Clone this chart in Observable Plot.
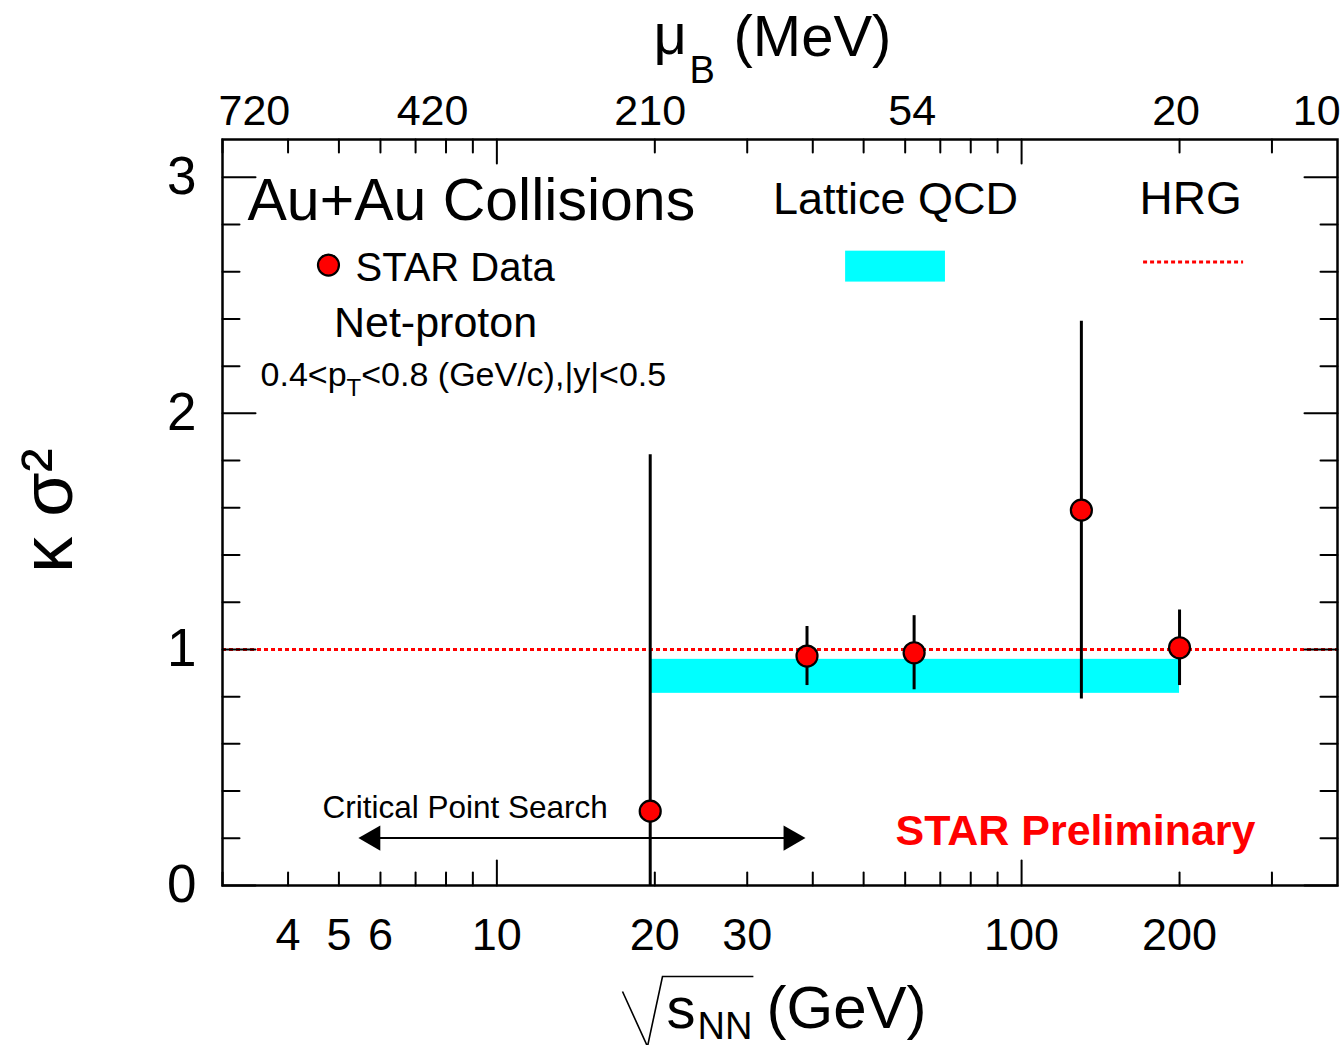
<!DOCTYPE html>
<html>
<head>
<meta charset="utf-8">
<script src="https://cdn.jsdelivr.net/npm/d3@7"></script>
<script src="https://cdn.jsdelivr.net/npm/@observablehq/plot@0.6"></script>
<style>
html, body { margin: 0; padding: 0; background: #ffffff; }
#chart svg { display: block; }
</style>
</head>
<body>
<div id="chart"></div>
<script>
// ---- data ----
const energies = [19.6, 39, 62.4, 130, 200];          // sqrt(s_NN) in GeV
const kappaSigma2 = [0.315, 0.972, 0.986, 1.59, 1.007];
const statErrors = [1.51, 0.125, 0.157, 0.80, 0.16];
const lqcdEnergyRange = [19.6, 200];
const lqcdRange = [0.814, 0.958];
const hrgValue = [1];
const xTickLabels = [4, 5, 6, 10, 20, 30, 100, 200];
const xMinorTicks = [3, 4, 5, 6, 7, 8, 9, 20, 30, 40, 50, 60, 70, 80, 90, 200, 300];
const xMajorTicks = [10, 100];
const yTickLabels = [0, 1, 2, 3];
const yMinorTicks = [0.2, 0.4, 0.6, 0.8, 1.2, 1.4, 1.6, 1.8, 2.2, 2.4, 2.6, 2.8];
const muBLabels = ["720", "420", "210", "54", "20", "10"];
const muBEnergies = [3.45, 7.54, 19.6, 61.9, 197, 365];
const arrowRange = [5.447, 38.74];
const arrowLevel = [0.201];

const points = energies.map((e, i) => ({
  energy: e, value: kappaSigma2[i],
  lo: kappaSigma2[i] - statErrors[i], hi: kappaSigma2[i] + statErrors[i]
}));
const band = [{x1: lqcdEnergyRange[0], x2: lqcdEnergyRange[1], y1: lqcdRange[0], y2: lqcdRange[1]}];
const muBTable = muBLabels.map((t, i) => ({t, e: muBEnergies[i]}));

const FONT = "'Liberation Sans', Arial, Helvetica, sans-serif";
const ML = 222, MT = 139;

const tickShape = {draw(context, l) { context.moveTo(0, 0); context.lineTo(0, -l); }};
const ticks = (values, ch, side, len) => Plot.vector(values, {
  [ch]: d => d, frameAnchor: side,
  rotate: {bottom: 0, top: 180, left: 90, right: -90}[side],
  length: len, anchor: "start", shape: tickShape, stroke: "black", strokeWidth: 2
});
// text placed in pixel offsets from the top-left corner of the frame
const label = (txt, px, py, opts = {}) => Plot.text([txt], {
  text: d => d, frameAnchor: "top-left", dx: px - ML, dy: py - MT,
  textAnchor: "start", lineAnchor: "bottom", fill: "black", ...opts
});

const chart = Plot.plot({
  width: 1343,
  height: 1045,
  marginLeft: ML,
  marginRight: 6,
  marginTop: MT,
  marginBottom: 160,
  style: {fontFamily: FONT, background: "white", overflow: "visible"},
  x: {type: "log", domain: [3, 400], axis: null},
  y: {domain: [0, 3.16], axis: null},
  marks: [
    // Lattice QCD band
    Plot.rect(band, {x1: "x1", x2: "x2", y1: "y1", y2: "y2", fill: "#00ffff"}),
    // HRG line
    Plot.ruleY(hrgValue, {stroke: "#ff0000", strokeWidth: 3, strokeDasharray: "4,3"}),
    // error bars
    Plot.ruleX(points, {x: "energy", y1: "lo", y2: "hi", stroke: "black", strokeWidth: 3, clip: true}),
    // data points
    Plot.dot(points, {x: "energy", y: "value", r: 10.5, fill: "#ff0000", stroke: "black", strokeWidth: 2.2}),

    // ticks (inward, ROOT style)
    ticks(xMinorTicks, "x", "bottom", 13),
    ticks(xMajorTicks, "x", "bottom", 25),
    ticks(xMinorTicks, "x", "top", 13),
    ticks(xMajorTicks, "x", "top", 24),
    ticks(yMinorTicks, "y", "left", 17),
    ticks(yTickLabels, "y", "left", 33),
    ticks(yMinorTicks, "y", "right", 17),
    ticks(yTickLabels, "y", "right", 33),
    Plot.frame({stroke: "black", strokeWidth: 2.5}),

    // tick labels
    Plot.text(xTickLabels, {x: d => d, text: d => String(d), frameAnchor: "bottom", dy: 50,
      fontSize: 45, lineAnchor: "middle", fill: "black"}),
    Plot.text(yTickLabels, {y: d => d, text: d => String(d), frameAnchor: "left", dx: -26,
      textAnchor: "end", fontSize: 53, lineAnchor: "middle", fill: "black"}),
    Plot.text(muBTable, {x: "e", text: "t", frameAnchor: "top", dy: -28,
      fontSize: 43, lineAnchor: "middle", fill: "black"}),

    // axis titles
    label("\u03bc", 653, 53, {fontSize: 58}),
    label("B", 689, 82, {fontSize: 38}),
    label("(MeV)", 733, 55, {fontSize: 58}),
    label("s", 666, 1027, {fontSize: 58, className: "xt-s"}),
    label("NN", 697, 1038, {fontSize: 38, className: "xt-nn"}),
    label("(GeV)", 766, 1027, {fontSize: 60}),
    Plot.text(["\u03ba \u03c3\u00b2"], {text: d => d, frameAnchor: "left", dx: 71 - ML, dy: -2,
      rotate: -90, textAnchor: "middle", fontSize: 72, lineAnchor: "bottom", fill: "black"}),

    // legend / annotations (data coordinates)
    Plot.text(["Au+Au Collisions"], {x: 3.348, y: 2.819, text: d => d, textAnchor: "start",
      lineAnchor: "bottom", fontSize: 59, fill: "black"}),
    Plot.text(["Lattice QCD"], {x: 57.5, y: 2.844, text: d => d, lineAnchor: "bottom",
      fontSize: 45, fill: "black"}),
    Plot.text(["HRG"], {x: 209.9, y: 2.844, text: d => d, lineAnchor: "bottom",
      fontSize: 46, fill: "black"}),
    Plot.rect([{x1: 46.2, x2: 71.6, y1: 2.556, y2: 2.687}], {x1: "x1", x2: "x2", y1: "y1", y2: "y2", fill: "#00ffff"}),
    Plot.ruleY([{y: 2.641, x1: 170.8, x2: 264.9}], {y: "y", x1: "x1", x2: "x2",
      stroke: "#ff0000", strokeWidth: 3, strokeDasharray: "4,3"}),
    Plot.dot([{x: 4.776, y: 2.628}], {x: "x", y: "y", r: 10.5, fill: "#ff0000", stroke: "black", strokeWidth: 2.2}),
    Plot.text(["STAR Data"], {x: 5.378, y: 2.561, text: d => d, textAnchor: "start",
      lineAnchor: "bottom", fontSize: 40, fill: "black"}),
    Plot.text(["Net-proton"], {x: 7.64, y: 2.322, text: d => d, lineAnchor: "bottom",
      fontSize: 43, fill: "black"}),
    Plot.text(["0.4<pT<0.8 (GeV/c),|y|<0.5"], {x: 3.545, y: 2.116, text: d => d, textAnchor: "start",
      lineAnchor: "bottom", fontSize: 34, fill: "black", className: "pt-label"}),
    Plot.text(["Critical Point Search"], {x: 4.652, y: 0.285, text: d => d, textAnchor: "start",
      lineAnchor: "bottom", fontSize: 31.5, fill: "black"}),
    Plot.ruleY(arrowLevel, {x1: arrowRange[0], x2: arrowRange[1], stroke: "black", strokeWidth: 2,
      insetLeft: 10, insetRight: 10}),
    Plot.dot(arrowLevel, {x: arrowRange[0], y: d => d, symbol: "triangle", rotate: -90, r: 9.4,
      dx: 14.6, fill: "black", stroke: "none"}),
    Plot.dot(arrowLevel, {x: arrowRange[1], y: d => d, symbol: "triangle", rotate: 90, r: 9.4,
      dx: -14.6, fill: "black", stroke: "none"}),
    Plot.text(["STAR Preliminary"], {x: 57.5, y: 0.171, text: d => d, textAnchor: "start",
      lineAnchor: "bottom", fontSize: 43, fontWeight: "bold", fill: "#ff0000"})
  ]
});
document.getElementById("chart").appendChild(chart);

// ---- text refinements: subscripts and radical sign ----
const svg = d3.select(chart);
const pt = svg.select(".pt-label text");
if (!pt.empty()) {
  pt.text(null);
  pt.append("tspan").text("0.4<p");
  pt.append("tspan").attr("font-size", 24).attr("dy", 10).text("T");
  pt.append("tspan").attr("dy", -10).text("<0.8 (GeV/c),|y|<0.5");
}
const sNode = svg.select(".xt-s text").node();
const nnNode = svg.select(".xt-nn text").node();
if (sNode && nnNode) {
  const sb = sNode.getBBox();
  const nb = nnNode.getBBox();
  const ms = sNode.getCTM(), mn = nnNode.getCTM();
  const sx = ms.e + sb.x, sy = ms.f + sb.y;
  const nx = mn.e + nb.x + nb.width;
  const yv = sy + 2;
  svg.append("path")
    .attr("d", `M${sx - 44},${yv + 15}L${sx - 19},${yv + 70}L${sx - 4},${yv}L${nx + 1},${yv}`)
    .attr("fill", "none").attr("stroke", "black").attr("stroke-width", 1.6);
}
</script>
</body>
</html>
